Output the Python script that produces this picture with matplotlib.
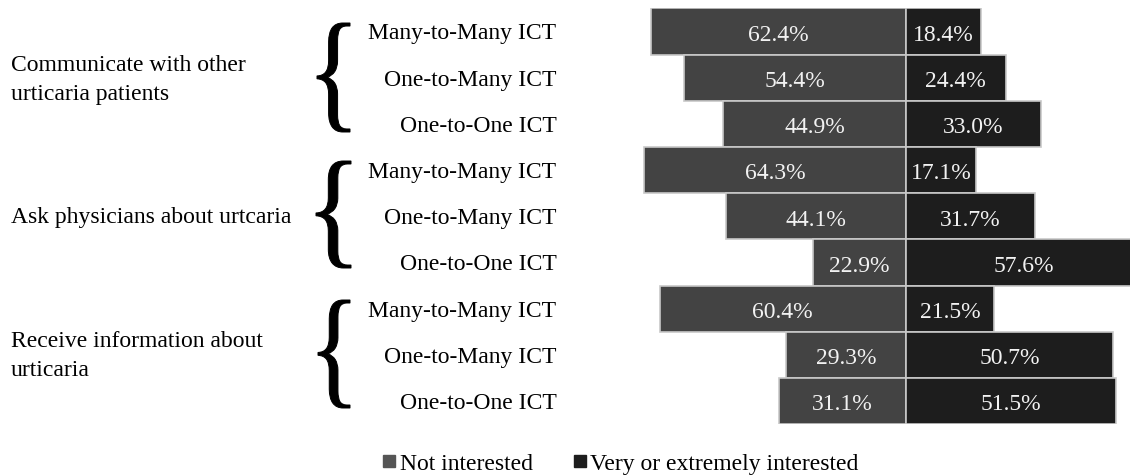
import matplotlib
matplotlib.use("Agg")
import matplotlib.pyplot as plt
from matplotlib.font_manager import FontProperties
from matplotlib.textpath import TextPath
from matplotlib.patches import PathPatch
from matplotlib.transforms import Affine2D
from matplotlib.lines import Line2D

# data
groups = ["Communicate with other\nurticaria patients",
          "Ask physicians about urtcaria",
          "Receive information about\nurticaria"]
ict_types = ["Many-to-Many ICT", "One-to-Many ICT", "One-to-One ICT"]
not_interested = [62.4, 54.4, 44.9, 64.3, 44.1, 22.9, 60.4, 29.3, 31.1]
interested = [18.4, 24.4, 33.0, 17.1, 31.7, 57.6, 21.5, 50.7, 51.5]
series_names = ["Not interested", "Very or extremely interested"]

plt.rcParams['font.family'] = ['Liberation Serif', 'DejaVu Serif']
W, H = 1130, 475
fig = plt.figure(figsize=(W / 100, H / 100), dpi=100)

c_left = '#434343'
c_right = '#1d1d1d'
edge = '#c8c8c8'
fs = 17

# axes placed in pixels
ax_l, ax_r = 620.4, 1130
ax_t, ax_b = 8.4, 424.1
ax = fig.add_axes([ax_l / W, 1 - ax_b / H, (ax_r - ax_l) / W, (ax_b - ax_t) / H])

rows = [t for g in groups for t in ict_types]
y = list(range(len(rows)))
ax.barh(y, [-v for v in not_interested], height=1.0, color=c_left,
        edgecolor=edge, linewidth=1.2)
ax.barh(y, interested, height=1.0, color=c_right, edgecolor=edge, linewidth=1.2)

for i in y:
    ax.text(-not_interested[i] / 2, i + 0.03, f"{not_interested[i]:.1f}%", color='#f2f2f2',
            ha='center', va='center_baseline', fontsize=fs)
    ax.text(interested[i] / 2, i + 0.03, f"{interested[i]:.1f}%", color='#f2f2f2',
            ha='center', va='center_baseline', fontsize=fs)

ax.set_xlim(-70, 54.9)
ax.set_ylim(len(rows) - 0.5, -0.5)
ax.set_yticks(y)
ax.set_yticklabels(rows, fontsize=fs)
ax.tick_params(axis='y', length=0, pad=46)
ax.set_xticks([])
for s in ax.spines.values():
    s.set_visible(False)

# group labels
group_y = [80, 218, 356]
for g, py in zip(groups, group_y):
    fig.text(11 / W, 1 - py / H, g, ha='left', va='center', fontsize=fs,
             linespacing=1.45)

# curly braces from the serif glyph, stretched
bp = TextPath((0, 0), "{", size=1, prop=FontProperties(family='Liberation Serif'))
ext = bp.get_extents()
brace_boxes = [(317, 350, 23, 132), (316, 351, 161, 268), (318, 350, 300, 408)]
for x0, x1, y0, y1 in brace_boxes:
    tr = (Affine2D().translate(-ext.x0, -ext.y0)
          .scale((x1 - x0) / ext.width, (y1 - y0) / ext.height)
          .translate(x0, H - y1).scale(1 / W, 1 / H))
    p = PathPatch(tr.transform_path(bp), facecolor='black', edgecolor='black',
                  linewidth=0.7, transform=fig.transFigure)
    fig.add_artist(p)

handles = [Line2D([], [], marker='s', linestyle='none', color=c, markersize=9)
           for c in ['#555555', c_right]]
fig.legend(handles, series_names, loc='center', bbox_to_anchor=(0.549, 1 - 464 / H),
           ncol=2, frameon=False, fontsize=fs, handlelength=0.6, handletextpad=0.15,
           columnspacing=1.7, borderpad=0, borderaxespad=0)

fig.savefig("out.png", dpi=100)
